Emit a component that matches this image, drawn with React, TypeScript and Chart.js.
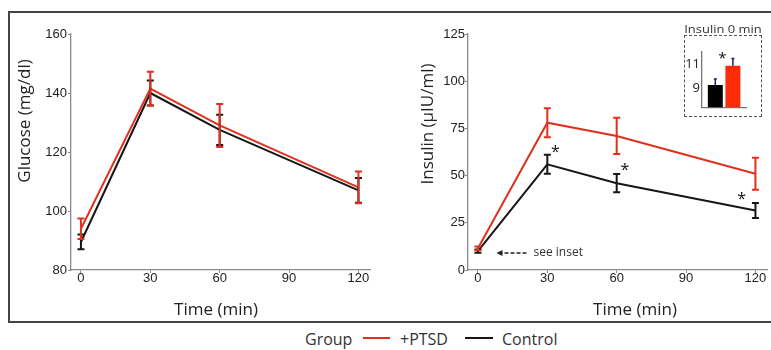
import React, { useEffect, useRef } from "react";
import { Chart, registerables } from "chart.js";
Chart.register(...registerables);

// ---------- data ----------
const TIME = [0, 30, 60, 120];
const TIME_TICKS = [0, 30, 60, 90, 120];
const GLUCOSE_TICKS = [80, 100, 120, 140, 160];
const INSULIN_TICKS = [0, 25, 50, 75, 100, 125];

const GLUCOSE_PTSD = [94, 141.5, 129, 108];
const GLUCOSE_PTSD_ERR = [3.5, 5.7, 7.3, 5.4];
const GLUCOSE_CONTROL = [89.5, 140, 127.5, 107];
const GLUCOSE_CONTROL_ERR = [2.5, 4.2, 5.1, 4.2];

const INSULIN_PTSD = [11.5, 78, 71, 51];
const INSULIN_PTSD_ERR = [1, 7.7, 9.6, 8.5];
const INSULIN_CONTROL = [10, 56, 46, 31.5];
const INSULIN_CONTROL_ERR = [0.8, 5, 4.8, 4];

const STAR_X = [33.5, 63.5, 114];
const STAR_Y = [64.5, 55, 40];

const SEE_INSET_FROM = [21, 9];
const SEE_INSET_TO = [8, 9];
const SEE_INSET_TEXT = "see inset";

const INSET_GROUPS = ["Control", "+PTSD"];
const INSET_X = [1, 2];
const INSET_VALUES = [9.3, 10.9];
const INSET_ERR = [0.5, 0.6];
const INSET_TICKS = [9, 11];
const INSET_STAR = [1.4, 11.85];

const RED = "#e0301e";
const BLACK = "#161616";
const AXIS = "#8a8a8a";
const TEXT = "#222";

// ---------- plugins ----------
const errorBarPlugin = {
  id: "errorBars",
  afterDatasetsDraw(chart: any) {
    const { ctx } = chart;
    const ys = chart.scales.y;
    const sets = chart.data.datasets;
    for (let d = sets.length - 1; d >= 0; d--) {
      const ds: any = sets[d];
      if (!ds.errors) continue;
      const meta = chart.getDatasetMeta(d);
      ctx.save();
      ctx.strokeStyle = ds.errorColor || ds.borderColor;
      ctx.lineWidth = ds.errorWidth || 2;
      const cap = ds.capHalf == null ? 3.5 : ds.capHalf;
      meta.data.forEach((el: any, i: number) => {
        const v = ds.data[i].y;
        const e = ds.errors[i];
        const top = ys.getPixelForValue(v + e);
        const bot = ds.upOnly ? ys.getPixelForValue(v) : ys.getPixelForValue(v - e);
        const x = el.x;
        ctx.beginPath();
        ctx.moveTo(x, top);
        ctx.lineTo(x, bot);
        if (cap > 0) {
          ctx.moveTo(x - cap, top);
          ctx.lineTo(x + cap, top);
          if (!ds.upOnly) {
            ctx.moveTo(x - cap, bot);
            ctx.lineTo(x + cap, bot);
          }
        }
        ctx.stroke();
      });
      ctx.restore();
    }
  },
};

function titlesPlugin(o: {
  originX: number;
  originY: number;
  yTitle: string;
  yTitleX: number;
  yTitleY: number;
  xTitle: string;
  xTitleX: number;
  xTitleY: number;
  extra?: (chart: any) => void;
}) {
  return {
    id: "titles",
    afterDraw(chart: any) {
      const { ctx } = chart;
      ctx.save();
      ctx.fillStyle = TEXT;
      ctx.font = '17px "Open Sans"';
      ctx.textAlign = "center";
      ctx.textBaseline = "middle";
      ctx.fillText(o.xTitle, o.xTitleX - o.originX, o.xTitleY - o.originY);
      ctx.translate(o.yTitleX - o.originX, o.yTitleY - o.originY);
      ctx.rotate(-Math.PI / 2);
      ctx.fillText(o.yTitle, 0, 0);
      ctx.restore();
      if (o.extra) o.extra(chart);
    },
  };
}

function drawStar(ctx: any, x: number, y: number, size: number) {
  ctx.save();
  ctx.fillStyle = "#111";
  ctx.font = `${size}px "Open Sans"`;
  ctx.textAlign = "center";
  ctx.textBaseline = "alphabetic";
  ctx.fillText("*", x, y + 0.57 * size);
  ctx.restore();
}

function lineDataset(label: string, values: number[], errs: number[], color: string) {
  return {
    label,
    data: TIME.map((t, i) => ({ x: t, y: values[i] })),
    errors: errs,
    borderColor: color,
    backgroundColor: color,
    borderWidth: 2,
    pointRadius: 0,
    tension: 0,
    capHalf: 3.5,
  } as any;
}

function lineConfig(o: {
  ptsd: number[];
  ptsdErr: number[];
  ctrl: number[];
  ctrlErr: number[];
  yMin: number;
  yMax: number;
  yTicks: number[];
  yWidth: number;
  yPad: number;
  padRight: number;
  titles: any;
}) {
  const tickFont = { family: '"Liberation Sans", Arial, sans-serif', size: 13 };
  return {
    type: "line",
    data: {
      datasets: [
        lineDataset("+PTSD", o.ptsd, o.ptsdErr, RED),
        lineDataset("Control", o.ctrl, o.ctrlErr, BLACK),
      ],
    },
    options: {
      animation: false,
      responsive: false,
      events: [],
      layout: { padding: { top: 22, right: o.padRight, left: 0, bottom: 0 } },
      plugins: { legend: { display: false }, tooltip: { enabled: false }, title: { display: false } },
      scales: {
        x: {
          type: "linear",
          min: -4.3,
          max: 125,
          afterBuildTicks: (a: any) => {
            a.ticks = TIME_TICKS.map((v) => ({ value: v }));
          },
          afterFit: (s: any) => {
            s.height = 50;
          },
          grid: { drawOnChartArea: false, drawTicks: true, tickLength: 3, color: AXIS },
          border: { display: true, color: AXIS, width: 1.3 },
          ticks: { font: tickFont, color: TEXT, padding: -2, maxRotation: 0 },
        },
        y: {
          type: "linear",
          min: o.yMin,
          max: o.yMax,
          afterBuildTicks: (a: any) => {
            a.ticks = o.yTicks.map((v) => ({ value: v }));
          },
          afterFit: (s: any) => {
            s.width = o.yWidth;
          },
          grid: { drawOnChartArea: false, drawTicks: true, tickLength: 3, color: AXIS },
          border: { display: true, color: AXIS, width: 1.3 },
          ticks: { font: tickFont, color: TEXT, padding: o.yPad },
        },
      },
    },
    plugins: [errorBarPlugin, titlesPlugin(o.titles)],
  } as any;
}

function useChart(ref: React.RefObject<HTMLCanvasElement | null>, make: () => any) {
  useEffect(() => {
    if (!ref.current) return;
    const c = new Chart(ref.current, make());
    return () => c.destroy();
  }, []);
}

export default function App() {
  const leftRef = useRef<HTMLCanvasElement>(null);
  const rightRef = useRef<HTMLCanvasElement>(null);
  const insetRef = useRef<HTMLCanvasElement>(null);

  useChart(leftRef, () =>
    lineConfig({
      ptsd: GLUCOSE_PTSD,
      ptsdErr: GLUCOSE_PTSD_ERR,
      ctrl: GLUCOSE_CONTROL,
      ctrlErr: GLUCOSE_CONTROL_ERR,
      yMin: 80,
      yMax: 160,
      yTicks: GLUCOSE_TICKS,
      yWidth: 63,
      yPad: 1,
      padRight: 20,
      titles: {
        originX: 8,
        originY: 12,
        yTitle: "Glucose (mg/dl)",
        yTitleX: 25,
        yTitleY: 121,
        xTitle: "Time (min)",
        xTitleX: 216,
        xTitleY: 310,
      },
    })
  );

  useChart(rightRef, () =>
    lineConfig({
      ptsd: INSULIN_PTSD,
      ptsdErr: INSULIN_PTSD_ERR,
      ctrl: INSULIN_CONTROL,
      ctrlErr: INSULIN_CONTROL_ERR,
      yMin: 0,
      yMax: 125,
      yTicks: INSULIN_TICKS,
      yWidth: 78,
      yPad: 0,
      padRight: 4,
      titles: {
        originX: 390,
        originY: 12,
        yTitle: "Insulin (\u03bcIU/ml)",
        yTitleX: 428,
        yTitleY: 124,
        xTitle: "Time (min)",
        xTitleX: 635,
        xTitleY: 310,
        extra: (chart: any) => {
          const { ctx } = chart;
          const xs = chart.scales.x;
          const ys = chart.scales.y;
          STAR_X.forEach((sx, i) => drawStar(ctx, xs.getPixelForValue(sx), ys.getPixelForValue(STAR_Y[i]), 16));
          const x1 = xs.getPixelForValue(SEE_INSET_FROM[0]);
          const y1 = ys.getPixelForValue(SEE_INSET_FROM[1]);
          const x2 = xs.getPixelForValue(SEE_INSET_TO[0]);
          const y2 = ys.getPixelForValue(SEE_INSET_TO[1]);
          ctx.save();
          ctx.strokeStyle = "#222";
          ctx.fillStyle = "#222";
          ctx.lineWidth = 1.3;
          ctx.setLineDash([4, 2]);
          ctx.beginPath();
          ctx.moveTo(x1, y1);
          ctx.lineTo(x2 + 5, y2);
          ctx.stroke();
          ctx.setLineDash([]);
          ctx.beginPath();
          ctx.moveTo(x2, y2);
          ctx.lineTo(x2 + 6, y2 - 3);
          ctx.lineTo(x2 + 6, y2 + 3);
          ctx.closePath();
          ctx.fill();
          ctx.font = '12px "Open Sans"';
          ctx.textAlign = "left";
          ctx.textBaseline = "middle";
          ctx.fillStyle = "#333";
          ctx.fillText(SEE_INSET_TEXT, x1 + 7, y1);
          ctx.restore();
        },
      },
    })
  );

  useChart(insetRef, () => ({
    type: "bar",
    data: {
      datasets: [
        {
          label: "Insulin 0 min",
          data: INSET_X.map((x, i) => ({ x, y: INSET_VALUES[i] })),
          backgroundColor: ["#000000", "#ff2a0a"],
          borderWidth: 0,
          barPercentage: 0.85,
          categoryPercentage: 1,
          errors: INSET_ERR,
          upOnly: true,
          errorColor: "#1c1c6a",
          errorWidth: 1.5,
          capHalf: 1.5,
          groups: INSET_GROUPS,
        } as any,
      ],
    },
    options: {
      animation: false,
      responsive: false,
      events: [],
      layout: { padding: { top: 16, right: 16, left: 0, bottom: 0 } },
      plugins: { legend: { display: false }, tooltip: { enabled: false } },
      scales: {
        x: {
          type: "linear",
          offset: false,
          min: 0.244,
          max: 2.744,
          afterFit: (s: any) => {
            s.height = 6;
          },
          grid: { display: false, drawTicks: false, tickLength: 0 },
          border: { display: true, color: "#777", width: 1.3 },
          ticks: { display: false },
        },
        y: {
          type: "linear",
          min: 7.45,
          max: 12.05,
          afterBuildTicks: (a: any) => {
            a.ticks = INSET_TICKS.map((v) => ({ value: v }));
          },
          afterFit: (s: any) => {
            s.width = 18;
          },
          grid: { display: false, drawTicks: false, tickLength: 0 },
          border: { display: true, color: "#777", width: 1.3 },
          ticks: {
            font: { family: '"Open Sans"', size: 13 },
            color: TEXT,
            padding: 2,
            crossAlign: "near",
            autoSkip: false,
          },
        },
      },
    },
    plugins: [
      errorBarPlugin,
      {
        id: "insetStar",
        afterDraw(chart: any) {
          drawStar(
            chart.ctx,
            chart.scales.x.getPixelForValue(INSET_STAR[0]),
            chart.scales.y.getPixelForValue(INSET_STAR[1]),
            15
          );
        },
      },
    ],
  }));

  const abs = (s: React.CSSProperties): React.CSSProperties => ({ position: "absolute", ...s });
  const legendText: React.CSSProperties = {
    position: "absolute",
    top: 331,
    fontFamily: '"Open Sans"',
    fontSize: 16,
    lineHeight: "16px",
    color: "#333",
    whiteSpace: "nowrap",
  };

  return (
    <div
      style={{
        position: "absolute",
        left: 0,
        top: 0,
        width: 771,
        height: 350,
        overflow: "hidden",
        background: "#fff",
      }}
    >
      <div
        style={abs({
          left: 8,
          top: 11,
          width: 775,
          height: 312,
          border: "2px solid #444",
          boxSizing: "border-box",
        })}
      />
      <canvas ref={leftRef} width={382} height={308} style={abs({ left: 8, top: 12, width: 382, height: 308 })} />
      <canvas ref={rightRef} width={381} height={308} style={abs({ left: 390, top: 12, width: 381, height: 308 })} />
      <div
        style={abs({
          left: 684,
          top: 35,
          width: 78,
          height: 82,
          border: "1.3px dashed #555",
          boxSizing: "border-box",
        })}
      />
      <div
        style={abs({
          left: 673,
          top: 23,
          width: 100,
          textAlign: "center",
          fontFamily: '"Open Sans"',
          fontSize: 11,
          lineHeight: "11px",
          color: "#333",
          whiteSpace: "nowrap",
          transform: "scaleX(1.18)",
          transformOrigin: "center",
        })}
      >
        Insulin 0 min
      </div>
      <canvas ref={insetRef} width={78} height={81} style={abs({ left: 684, top: 36, width: 78, height: 81 })} />
      <span style={{ ...legendText, left: 305 }}>Group</span>
      <div style={abs({ left: 363, top: 337, width: 27, height: 2, background: RED })} />
      <span style={{ ...legendText, left: 400 }}>+PTSD</span>
      <div style={abs({ left: 465, top: 337, width: 28, height: 2, background: BLACK })} />
      <span style={{ ...legendText, left: 502 }}>Control</span>
    </div>
  );
}
